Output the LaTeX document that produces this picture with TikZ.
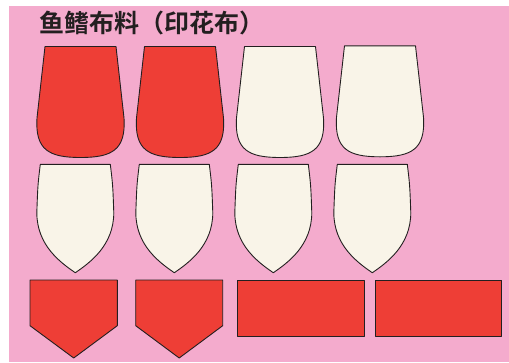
\documentclass[tikz,border=0pt]{standalone}
\usepackage{fontspec}
\newfontfamily\cjkbold{Noto Sans CJK SC Bold}
\definecolor{finpink}{HTML}{F4ABCD}
\definecolor{finred}{HTML}{EE3E36}
\definecolor{fincream}{HTML}{F9F4E8}
\definecolor{finline}{HTML}{231F20}
\begin{document}
\begin{tikzpicture}[x=1pt, y=-1pt]
            \tikzstyle{redpiece} = [draw=finline, line width=0.9pt, fill=finred, line join=round]
            \tikzstyle{creampiece} = [draw=finline, line width=0.9pt, fill=fincream, line join=round]
            \useasboundingbox (0, 0) rectangle (509, 362);
            \fill[finpink] (9, 6) rectangle (509, 362);
            \node[anchor=base west, inner sep=0pt, font=\cjkbold\fontsize{25}{25}\selectfont, text=finline] (title) at (39, 32) {鱼鳍布料（印花布）};

            % top row
            \draw[redpiece] (45, 46.5) -- (116, 46.5) -- (124, 118)
                .. controls (126, 150) and (112, 157.5) .. (80.5, 157.5)
                .. controls (49, 157.5) and (35, 150) .. (37, 118) -- cycle;
            \begin{scope}[xshift=99.5]
                \draw[redpiece] (45, 46.5) -- (116, 46.5) -- (124, 118)
                    .. controls (126, 150) and (112, 157.5) .. (80.5, 157.5)
                    .. controls (49, 157.5) and (35, 150) .. (37, 118) -- cycle;
            \end{scope}
            \begin{scope}[xshift=199.5]
                \draw[creampiece] (45, 46.5) -- (116, 46.5) -- (124, 118)
                    .. controls (126, 150) and (112, 157.5) .. (80.5, 157.5)
                    .. controls (49, 157.5) and (35, 150) .. (37, 118) -- cycle;
            \end{scope}
            \begin{scope}[xshift=299.5, yshift=0.7]
                \draw[creampiece] (45, 46.5) -- (116, 46.5) -- (124, 118)
                    .. controls (126, 150) and (112, 157.5) .. (80.5, 157.5)
                    .. controls (49, 157.5) and (35, 150) .. (37, 118) -- cycle;
            \end{scope}

            % middle row
            \draw[creampiece] (40.3, 164.3) -- (110.3, 164.3)
                .. controls (112.8, 185) .. (113.8, 213)
                .. controls (113.5, 245) and (91, 262) .. (75.3, 272.7)
                .. controls (59.6, 262) and (37.1, 245) .. (36.8, 213)
                .. controls (37.8, 185) .. (40.3, 164.3) -- cycle;
            \begin{scope}[xshift=99]
                \draw[creampiece] (40.3, 164.3) -- (110.3, 164.3)
                    .. controls (112.8, 185) .. (113.8, 213)
                    .. controls (113.5, 245) and (91, 262) .. (75.3, 272.7)
                    .. controls (59.6, 262) and (37.1, 245) .. (36.8, 213)
                    .. controls (37.8, 185) .. (40.3, 164.3) -- cycle;
            \end{scope}
            \begin{scope}[xshift=198]
                \draw[creampiece] (40.3, 164.3) -- (110.3, 164.3)
                    .. controls (112.8, 185) .. (113.8, 213)
                    .. controls (113.5, 245) and (91, 262) .. (75.3, 272.7)
                    .. controls (59.6, 262) and (37.1, 245) .. (36.8, 213)
                    .. controls (37.8, 185) .. (40.3, 164.3) -- cycle;
            \end{scope}
            \begin{scope}[xshift=297]
                \draw[creampiece] (40.3, 164.3) -- (110.3, 164.3)
                    .. controls (112.8, 185) .. (113.8, 213)
                    .. controls (113.5, 245) and (91, 262) .. (75.3, 272.7)
                    .. controls (59.6, 262) and (37.1, 245) .. (36.8, 213)
                    .. controls (37.8, 185) .. (40.3, 164.3) -- cycle;
            \end{scope}

            % bottom row
            \draw[redpiece] (30, 280) -- (117.3, 280) -- (117.3, 325.7) -- (73.7, 358) -- (30, 325.7) -- cycle;
            \draw[redpiece] (135.7, 280) -- (222.7, 280) -- (222.7, 325.7) -- (179.2, 358) -- (135.7, 325.7) -- cycle;
            \draw[redpiece] (237.7, 280) rectangle (364, 336);
            \draw[redpiece] (375.3, 280) rectangle (501.7, 336);
        \end{tikzpicture}
\end{document}
